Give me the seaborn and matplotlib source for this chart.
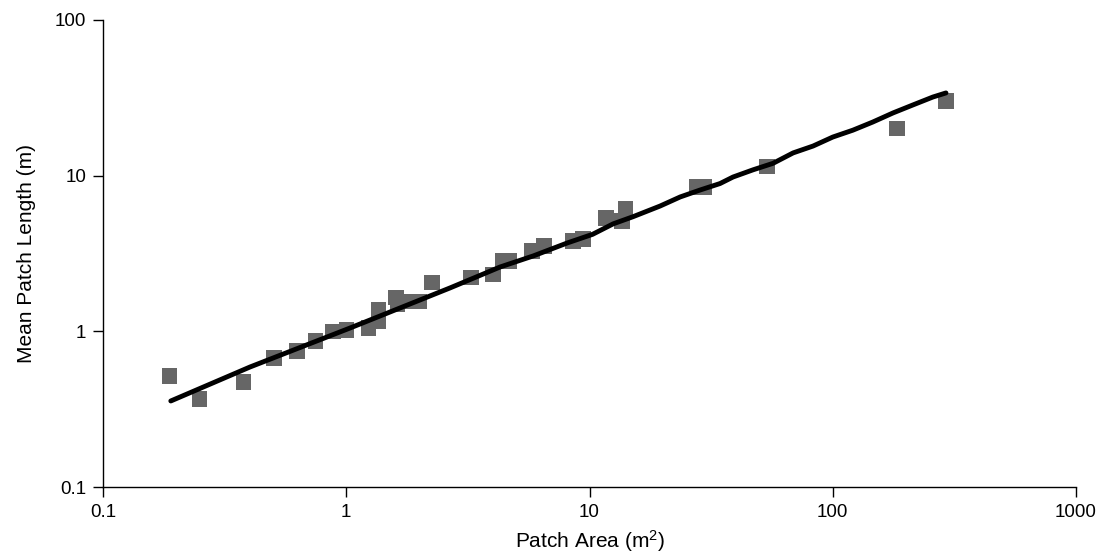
import matplotlib
matplotlib.use("Agg")
import matplotlib.pyplot as plt
import seaborn as sns
import pandas as pd
from matplotlib.ticker import FixedLocator, FixedFormatter, NullLocator

# Observed data (squares)
area_obs = [0.187, 0.25, 0.377, 0.505, 0.627, 0.745, 0.882, 1.0, 1.23, 1.36, 1.36,
            1.6, 1.62, 1.8, 2.0, 2.25, 3.26, 4.01, 4.4, 4.7, 5.8, 6.5, 8.55, 9.4,
            11.7, 13.6, 14.1, 27.5, 29.6, 53.7, 183.7, 292]
length_obs = [0.516, 0.367, 0.473, 0.675, 0.748, 0.867, 1.0, 1.02, 1.05, 1.37, 1.15,
              1.65, 1.5, 1.55, 1.55, 2.07, 2.23, 2.33, 2.83, 2.83, 3.28, 3.53, 3.80, 3.92,
              5.35, 5.12, 6.1, 8.45, 8.45, 11.4, 20.2, 30.2]

# Model curve (black line)
area_fit = [0.190, 0.402, 1.036, 2.67, 4.29, 5.87, 8.08, 10.3, 12.5, 15.1, 19.5, 23.6,
            28.5, 34.4, 38.9, 47.0, 56.8, 68.7, 83.0, 100, 121, 146, 177, 214, 258, 292]
length_fit = [0.357, 0.590, 1.05, 1.90, 2.59, 3.05, 3.69, 4.20, 4.90, 5.45, 6.38, 7.30,
              8.09, 8.90, 9.80, 10.9, 12.0, 14.0, 15.5, 17.7, 19.6, 22.1, 25.3, 28.5, 32.0, 34.0]

x_ticks = [0.1, 1, 10, 100, 1000]
x_labels = ["0.1", "1", "10", "100", "1000"]
y_ticks = [0.1, 1, 10, 100]
y_labels = ["0.1", "1", "10", "100"]

sns.set_theme(style="white")
plt.rcParams['font.family'] = ['Liberation Sans', 'DejaVu Sans']
plt.rcParams['mathtext.fontset'] = 'custom'
plt.rcParams['mathtext.rm'] = 'Liberation Sans'
plt.rcParams['mathtext.default'] = 'regular'

fig = plt.figure(figsize=(11.03, 5.57), dpi=100)
ax = fig.add_axes([103/1103, 1 - 487/557, (1076 - 103)/1103, (487 - 20)/557])

obs = pd.DataFrame({"area": area_obs, "length": length_obs})
fit = pd.DataFrame({"area": area_fit, "length": length_fit})

sns.scatterplot(data=obs, x="area", y="length", marker="s", s=120, color="#666666",
                edgecolor="none", linewidth=0, ax=ax, zorder=2)
sns.lineplot(data=fit, x="area", y="length", color="black", linewidth=3.5, ax=ax,
             zorder=3, solid_capstyle="round")

ax.set_xscale("log")
ax.set_yscale("log")
ax.set_xlim(0.1, 1000)
ax.set_ylim(0.1, 100)
ax.xaxis.set_major_locator(FixedLocator(x_ticks))
ax.xaxis.set_major_formatter(FixedFormatter(x_labels))
ax.yaxis.set_major_locator(FixedLocator(y_ticks))
ax.yaxis.set_major_formatter(FixedFormatter(y_labels))
ax.xaxis.set_minor_locator(NullLocator())
ax.yaxis.set_minor_locator(NullLocator())

for s in ["top", "right"]:
    ax.spines[s].set_visible(False)
for s in ["left", "bottom"]:
    ax.spines[s].set_color("black")
    ax.spines[s].set_linewidth(1.0)

ax.tick_params(axis="both", which="major", direction="out", length=7, width=1,
               color="black", labelsize=13.5, labelcolor="black", pad=5, bottom=True, left=True)

ax.set_xlabel("Patch Area (m$^{2}$)", fontsize=15, color="black", labelpad=5)
ax.set_ylabel("Mean Patch Length (m)", fontsize=15, color="black", labelpad=14)

fig.savefig("out.png", dpi=100, facecolor="white")
